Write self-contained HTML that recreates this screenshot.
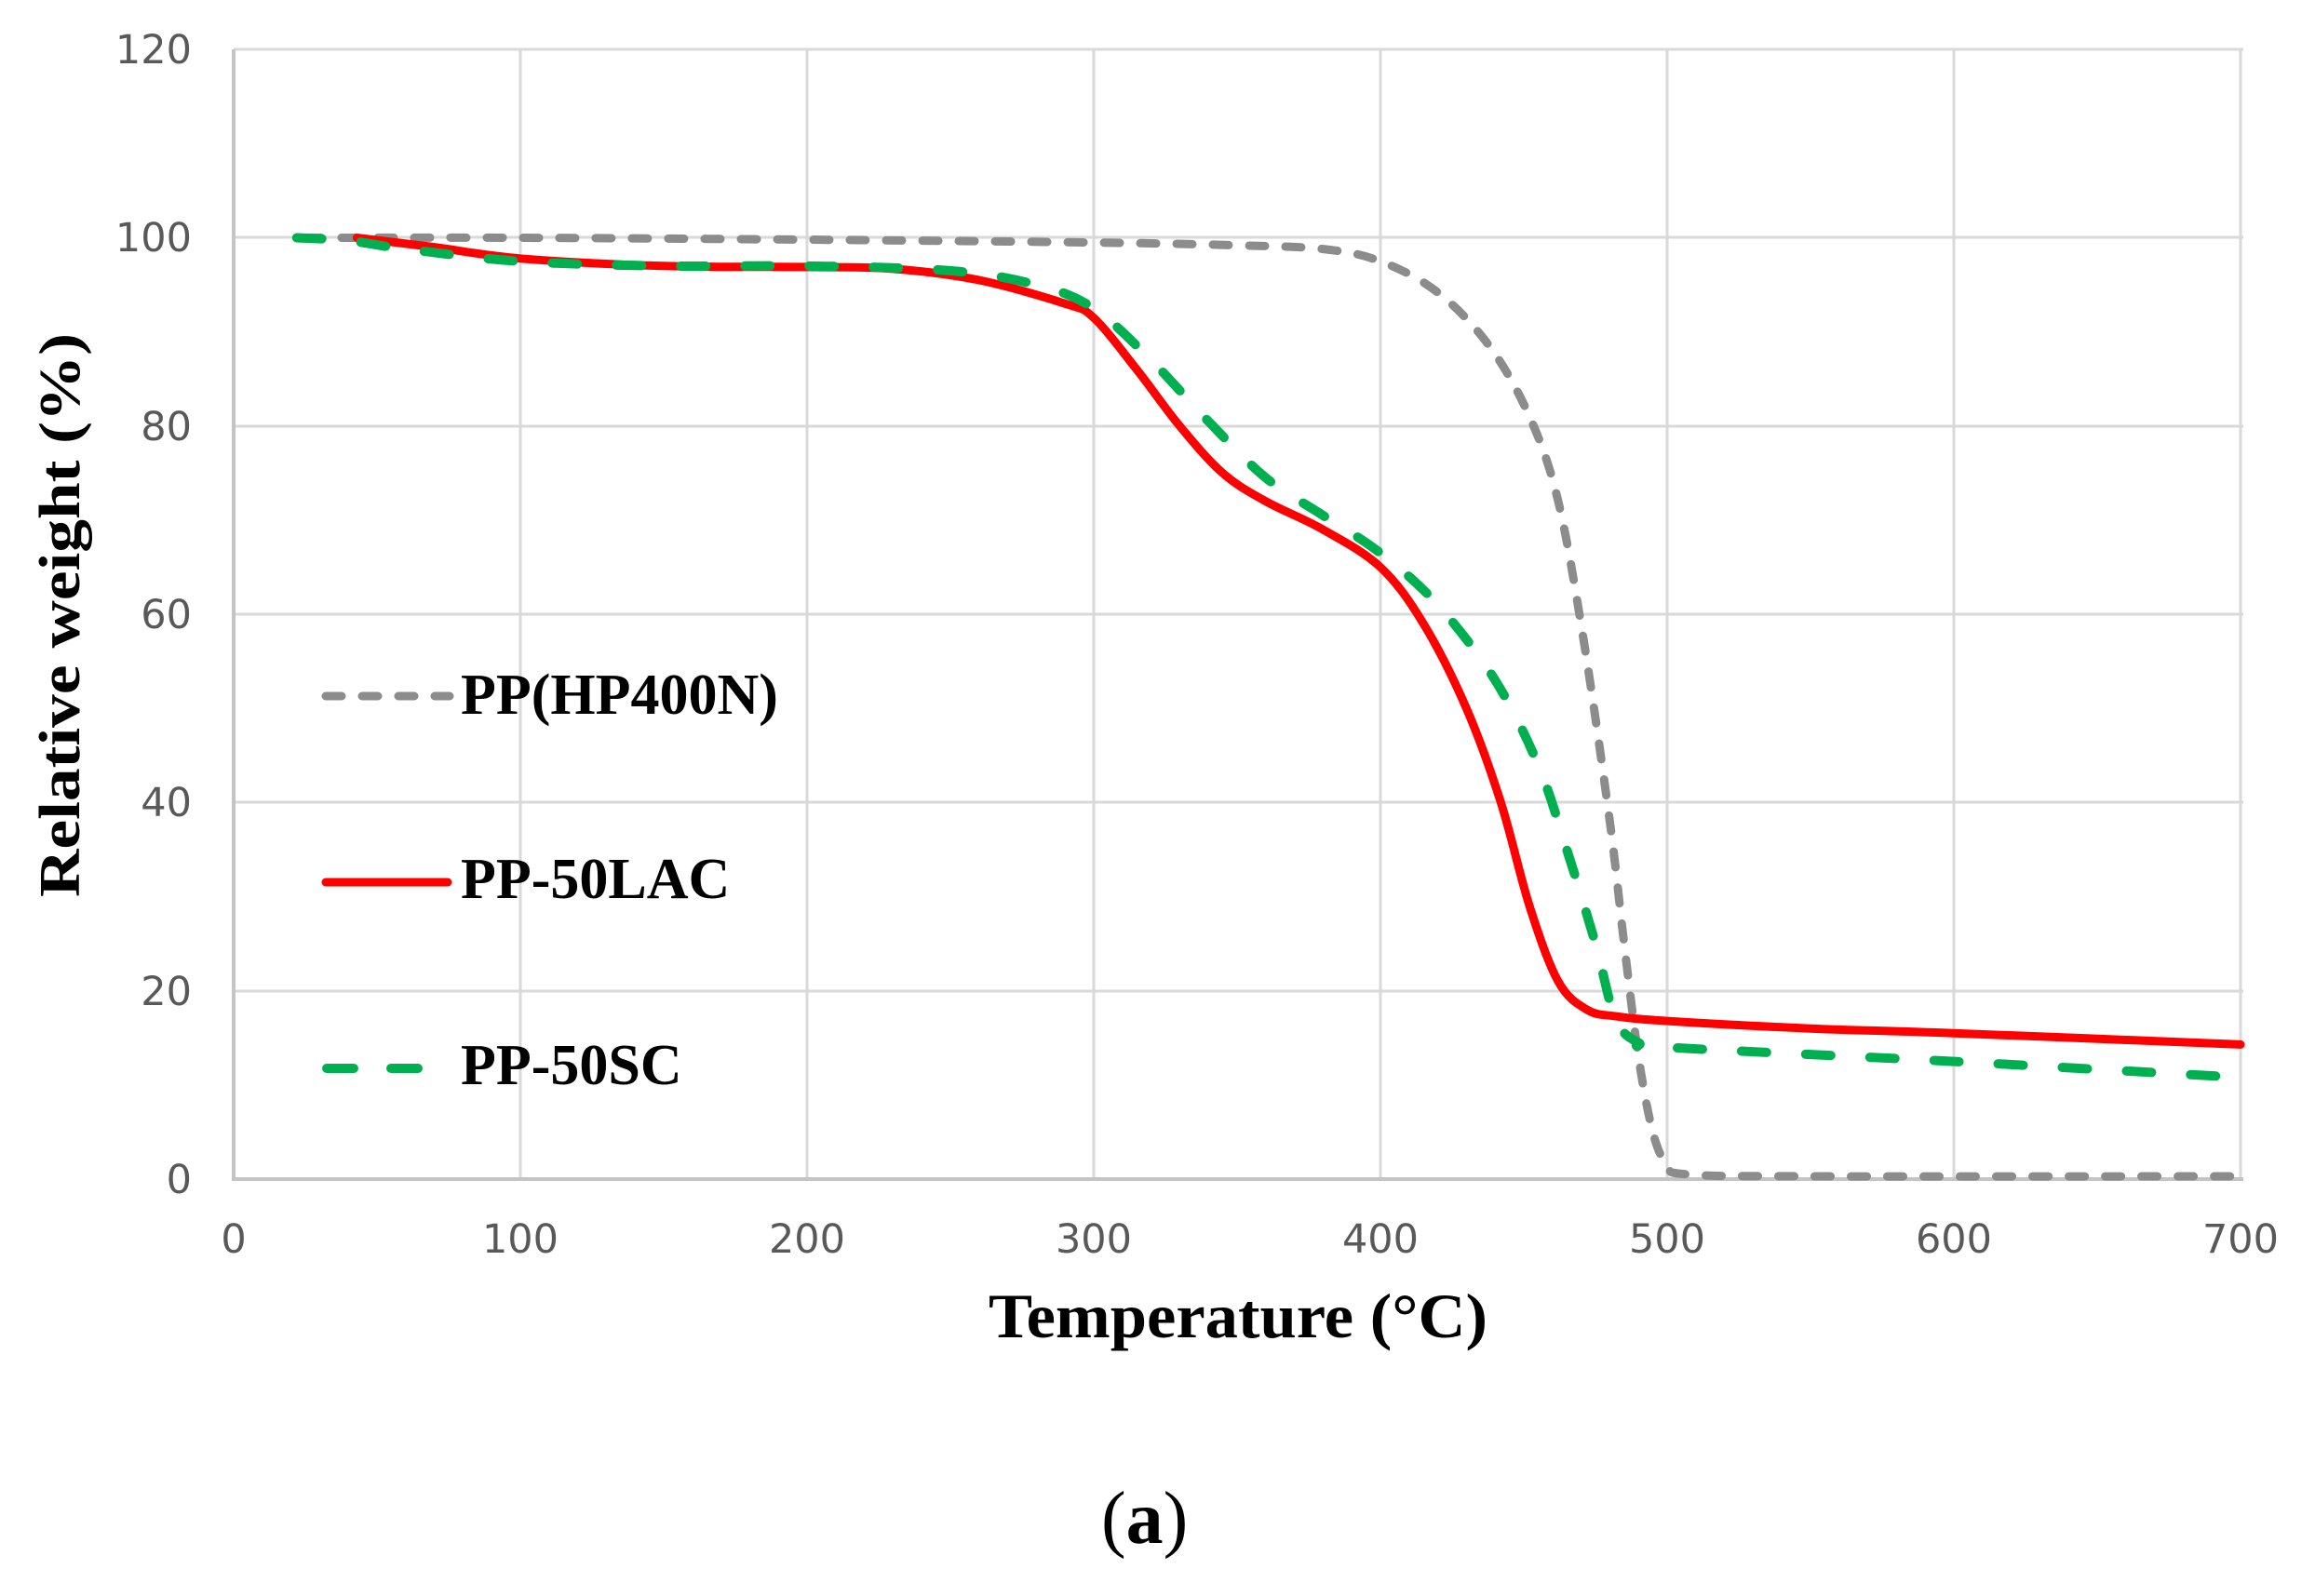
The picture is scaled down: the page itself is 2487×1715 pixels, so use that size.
<!DOCTYPE html>
<html><head><meta charset="utf-8"><style>
html,body{margin:0;padding:0;background:#fff;width:2487px;height:1715px;overflow:hidden}
</style></head><body>
<svg id="s" width="2487" height="1715" viewBox="0 0 2487 1715" xmlns="http://www.w3.org/2000/svg">
<rect width="2487" height="1715" fill="#fff"/>
<g stroke="#d9d9d9" stroke-width="3">
<line x1="251" y1="53" x2="2410" y2="53"/>
<line x1="251" y1="255" x2="2410" y2="255"/>
<line x1="251" y1="458" x2="2410" y2="458"/>
<line x1="251" y1="660" x2="2410" y2="660"/>
<line x1="251" y1="862" x2="2410" y2="862"/>
<line x1="251" y1="1065" x2="2410" y2="1065"/>
<line x1="559" y1="53" x2="559" y2="1267"/>
<line x1="867" y1="53" x2="867" y2="1267"/>
<line x1="1175" y1="53" x2="1175" y2="1267"/>
<line x1="1483" y1="53" x2="1483" y2="1267"/>
<line x1="1791" y1="53" x2="1791" y2="1267"/>
<line x1="2099" y1="53" x2="2099" y2="1267"/>
<line x1="2407" y1="53" x2="2407" y2="1267"/>
</g>
<g stroke="#c4c4c4" stroke-width="4">
<line x1="251" y1="53" x2="251" y2="1269"/>
<line x1="249" y1="1267" x2="2410" y2="1267"/>
</g>
<g font-family="'DejaVu Sans','Liberation Sans',sans-serif" font-size="43" fill="#595959" text-anchor="end">
<text x="206" y="68">120</text>
<text x="206" y="270">100</text>
<text x="206" y="473">80</text>
<text x="206" y="675">60</text>
<text x="206" y="877">40</text>
<text x="206" y="1080">20</text>
<text x="206" y="1282">0</text>
</g>
<g font-family="'DejaVu Sans','Liberation Sans',sans-serif" font-size="43" fill="#595959" text-anchor="middle">
<text x="251" y="1346">0</text>
<text x="559" y="1346">100</text>
<text x="867" y="1346">200</text>
<text x="1175" y="1346">300</text>
<text x="1483" y="1346">400</text>
<text x="1791" y="1346">500</text>
<text x="2099" y="1346">600</text>
<text x="2407" y="1346">700</text>
</g>
<path id="gray" fill="none" stroke="#8c8c8c" stroke-width="9" stroke-linecap="round" stroke-dasharray="17 22"/>
<path id="red" fill="none" stroke="#ff0000" stroke-width="9" stroke-linecap="round"/>
<path id="green" fill="none" stroke="#00b050" stroke-width="10" stroke-linecap="round" stroke-dasharray="27 42"/>
<line x1="350" y1="748" x2="483" y2="748" stroke="#8c8c8c" stroke-width="9" stroke-linecap="round" stroke-dasharray="17 22"/>
<line x1="350" y1="948" x2="481" y2="948" stroke="#ff0000" stroke-width="9" stroke-linecap="round"/>
<line x1="351" y1="1148" x2="380" y2="1148" stroke="#00b050" stroke-width="10" stroke-linecap="round"/>
<line x1="420" y1="1148" x2="449" y2="1148" stroke="#00b050" stroke-width="10" stroke-linecap="round"/>
<g font-family="'Liberation Serif',serif" font-weight="bold" font-size="62" fill="#000">
<text x="495" y="767">PP(HP400N)</text>
<text x="495" y="965">PP-50LAC</text>
<text x="495" y="1165">PP-50SC</text>
<text x="1062" y="1437" font-size="68" textLength="536" lengthAdjust="spacingAndGlyphs">Temperature  (°C)</text>
<text x="1183" y="1658" font-size="80" font-weight="normal">(<tspan font-weight="bold">a</tspan>)</text>
<text transform="translate(85,661) rotate(-90)" text-anchor="middle" font-size="62" textLength="606" lengthAdjust="spacingAndGlyphs">Relative weight (%)</text>
</g>
</svg>
<script>
function X(t){return 251+3.08*t}
function Y(w){return 1267-10.115*w}
function path(pts){
 var p=pts.map(function(a){return [X(a[0]),Y(a[1])]});
 var d="M"+p[0][0].toFixed(1)+","+p[0][1].toFixed(1);
 for(var i=0;i<p.length-1;i++){
  var p0=p[i-1]||p[i],p1=p[i],p2=p[i+1],p3=p[i+2]||p2;
  var c1x=p1[0]+(p2[0]-p0[0])/6,c1y=p1[1]+(p2[1]-p0[1])/6;
  var c2x=p2[0]-(p3[0]-p1[0])/6,c2y=p2[1]-(p3[1]-p1[1])/6;
  d+="C"+c1x.toFixed(1)+","+c1y.toFixed(1)+" "+c2x.toFixed(1)+","+c2y.toFixed(1)+" "+p2[0].toFixed(1)+","+p2[1].toFixed(1);
 }
 return d;
}
var gray=[[25,100],[100,100],[200,99.8],[300,99.5],[350,99.2],[380,98.8],[400,97.5],[420,94.2],[438,88.5],[452,81],[462,72],[471,57],[480,38],[485,25],[490,13],[495,5],[500,1.5],[507,0.5],[550,0.3],[700,0.3]];
var red=[[43,100],[70,99],[100,97.8],[150,97],[200,96.9],[230,96.7],[260,95.5],[290,93],[300,91.5],[315,86],[330,80],[345,75],[360,72],[380,69],[400,65],[415,59],[430,50],[442,40],[452,29],[462,21],[472,18],[482,17.3],[500,16.8],[550,16],[600,15.5],[700,14.3]];
var green=[[22,100],[40,99.7],[60,98.8],[100,97.5],[150,97],[200,97],[250,96.5],[280,95],[300,92.5],[320,87],[340,80.5],[360,74.5],[380,70.5],[400,66.5],[420,61],[440,53],[455,44],[465,35],[475,25],[482,17],[490,14.5],[500,14],[600,12.5],[700,10.8]];
document.getElementById("gray").setAttribute("d",path(gray));
document.getElementById("red").setAttribute("d",path(red));
document.getElementById("green").setAttribute("d",path(green));
</script>
</body></html>
